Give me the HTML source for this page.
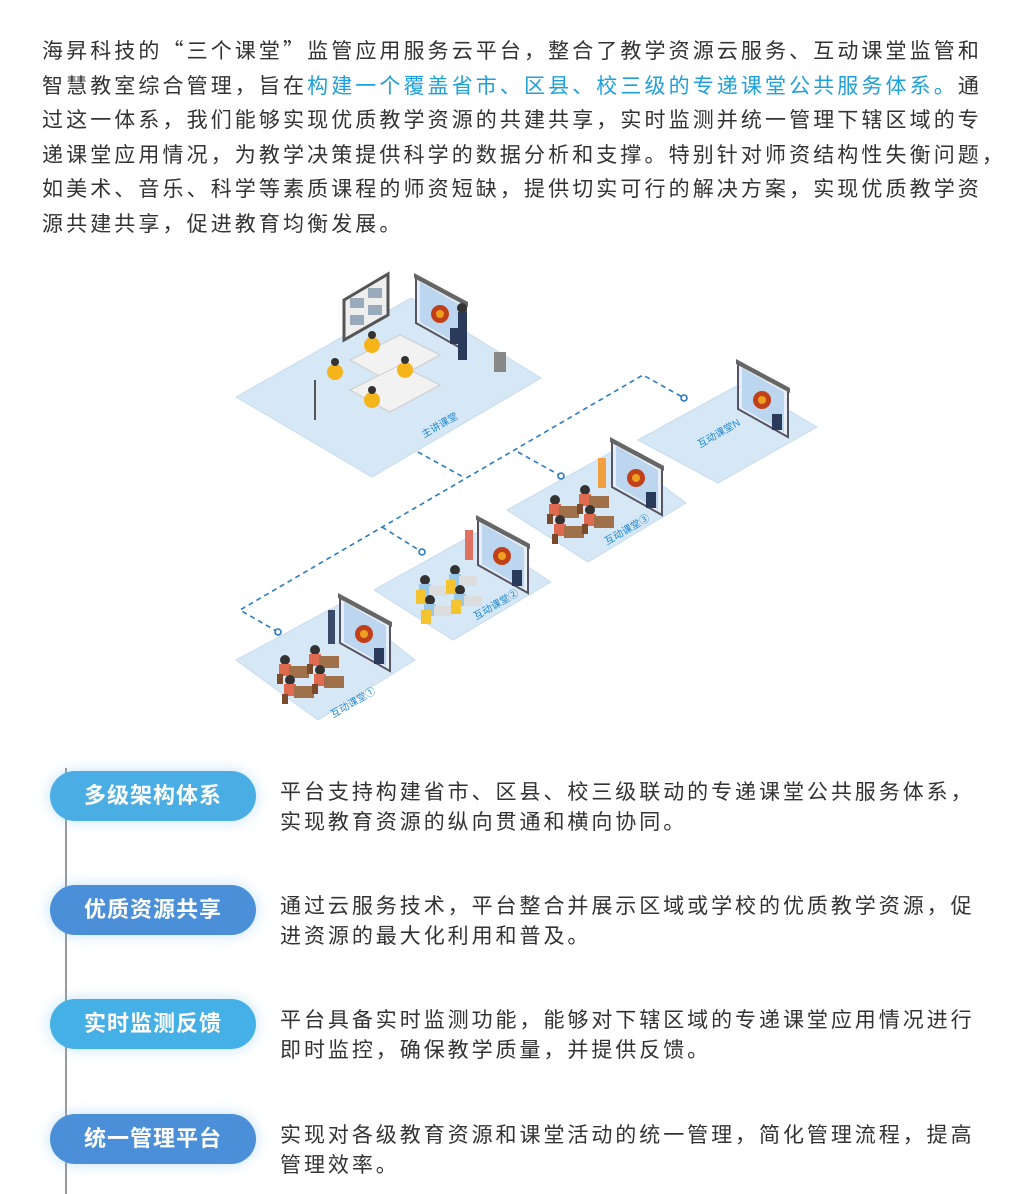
<!DOCTYPE html>
<html><head><meta charset="utf-8">
<style>
body{margin:0;width:1024px;height:1194px;background:#fff;position:relative;overflow:hidden;font-family:"Liberation Sans","Noto Sans CJK SC",sans-serif;color:#333;}
.intro{position:absolute;left:42px;top:33px;font-size:21px;line-height:34.6px;letter-spacing:3.1px;white-space:nowrap;}
.q{font-family:"Noto Sans CJK SC",sans-serif;}
.hl{color:#1ea0dc;}
.vline{position:absolute;left:65px;top:768px;width:2px;height:426px;background:#999;}
.pill{position:absolute;left:50px;width:206px;height:50px;border-radius:25px;color:#fff;font-size:22px;font-weight:bold;text-align:center;line-height:50px;letter-spacing:1px;box-shadow:0 0 14px rgba(120,190,240,.45);}
.desc{position:absolute;left:280px;font-size:21px;line-height:30px;letter-spacing:2.95px;white-space:nowrap;color:#333;}
</style></head><body>
<div class="intro">海昇科技的<span class="q">“</span>三个课堂<span class="q">”</span>监管应用服务云平台，整合了教学资源云服务、互动课堂监管和<br>智慧教室综合管理，旨在<span class="hl">构建一个覆盖省市、区县、校三级的专递课堂公共服务体系。</span>通<br>过这一体系，我们能够实现优质教学资源的共建共享，实时监测并统一管理下辖区域的专<br>递课堂应用情况，为教学决策提供科学的数据分析和支撑。特别针对师资结构性失衡问题，<br>如美术、音乐、科学等素质课程的师资短缺，提供切实可行的解决方案，实现优质教学资<br>源共建共享，促进教育均衡发展。</div>

<svg style="position:absolute;left:0;top:0" width="1024" height="760">
<defs>
<g id="scr"><polygon points="0,0 50,28 50,75 0,47" fill="#e8eef5" stroke="#556" stroke-width="2"/><polygon points="4,6 46,30 46,70 4,46" fill="#bcd6ef"/><circle cx="24" cy="38" r="9" fill="#c0401a"/><circle cx="24" cy="38" r="4" fill="#f0a020"/><polygon points="-2,-3 52,26 52,31 -2,2" fill="#666"/><rect x="34" y="52" width="10" height="16" fill="#2a3a5a"/></g>
<g id="stu"><circle cx="0" cy="0" r="5" fill="#333"/><rect x="-6" y="4" width="12" height="12" fill="#e06a50"/><rect x="4" y="6" width="20" height="12" fill="#a0704a"/><rect x="-8" y="14" width="6" height="10" fill="#7a4a2a"/></g>
<g id="stu2"><circle cx="0" cy="0" r="5" fill="#333"/><rect x="-6" y="4" width="12" height="12" fill="#9cc8e8"/><rect x="-9" y="10" width="10" height="14" fill="#f4c430"/><rect x="4" y="6" width="18" height="10" fill="#ddd"/></g>
</defs>
<g fill="#d6e7f6" stroke="#c6dcef" stroke-width="1">
<polygon points="236,397 411,298 541,378 372,477"/>
<polygon points="638,440 742,383 817,427 718,483"/>
<polygon points="507,510 615,450 686,503 588,562"/>
<polygon points="374,590 476,533 551,582 453,640"/>
<polygon points="236,660 342,603 415,660 318,720"/>
</g>
<g stroke="#2a7bc0" stroke-width="1.6" stroke-dasharray="5,4" fill="none">
<polyline points="278,632 240,610 643,375 684,398"/>
<line x1="418" y1="452" x2="465" y2="478"/>
<line x1="382" y1="527" x2="422" y2="552"/>
<line x1="518" y1="452" x2="561" y2="476"/>
</g>
<g fill="#fff" stroke="#2a7bc0" stroke-width="1.6">
<circle cx="278" cy="632" r="3"/><circle cx="684" cy="398" r="3"/><circle cx="422" cy="552" r="3"/><circle cx="561" cy="476" r="3"/>
</g>
<polygon points="344,300 388,274 388,315 344,340" fill="#eee" stroke="#555" stroke-width="3"/>
<g fill="#9ab"><rect x="350" y="298" width="14" height="10"/><rect x="368" y="288" width="14" height="10"/><rect x="350" y="315" width="14" height="10"/><rect x="368" y="305" width="14" height="10"/></g>
<use href="#scr" x="416" y="276"/>
<use href="#scr" x="738" y="362"/>
<use href="#scr" x="612" y="440"/>
<use href="#scr" x="478" y="518"/>
<use href="#scr" x="340" y="596"/>
<g fill="#f2f2f2" stroke="#ccc"><polygon points="350,360 400,335 440,355 390,382"/><polygon points="350,390 400,365 440,385 390,412"/></g>
<g fill="#f4b41a"><circle cx="335" cy="372" r="8"/><circle cx="372" cy="345" r="8"/><circle cx="405" cy="370" r="8"/><circle cx="372" cy="400" r="8"/></g>
<g fill="#333"><circle cx="335" cy="362" r="4"/><circle cx="372" cy="335" r="4"/><circle cx="405" cy="360" r="4"/><circle cx="372" cy="390" r="4"/></g>
<rect x="458" y="312" width="9" height="48" fill="#2a3a5a"/><circle cx="462" cy="308" r="5" fill="#333"/>
<rect x="494" y="352" width="12" height="20" fill="#888"/>
<line x1="315" y1="380" x2="315" y2="420" stroke="#555" stroke-width="2"/>
<use href="#stu" x="555" y="500"/><use href="#stu" x="585" y="490"/><use href="#stu" x="560" y="520"/><use href="#stu" x="590" y="510"/>
<use href="#stu" x="285" y="660"/><use href="#stu" x="315" y="650"/><use href="#stu" x="290" y="680"/><use href="#stu" x="320" y="670"/>
<use href="#stu2" x="425" y="580"/><use href="#stu2" x="455" y="570"/><use href="#stu2" x="430" y="600"/><use href="#stu2" x="460" y="590"/>
<rect x="598" y="458" width="8" height="30" fill="#f0a040"/><rect x="465" y="530" width="8" height="30" fill="#e07060"/><rect x="328" y="610" width="7" height="34" fill="#3a4a6a"/>
<g fill="#1e88d0" font-size="10" font-family="Liberation Sans,Noto Sans CJK SC,sans-serif">
<text transform="translate(424,438) rotate(-30)">主讲课堂</text>
<text transform="translate(700,448) rotate(-30)">互动课堂N</text>
<text transform="translate(607,545) rotate(-30)">互动课堂③</text>
<text transform="translate(476,620) rotate(-30)">互动课堂②</text>
<text transform="translate(333,718) rotate(-30)">互动课堂①</text>
</g>
</svg>

<div class="vline"></div>
<div class="pill" style="top:771px;background:#4aaee4;">多级架构体系</div>
<div class="pill" style="top:885px;background:#4a8fd8;">优质资源共享</div>
<div class="pill" style="top:999px;background:#45b0e6;">实时监测反馈</div>
<div class="pill" style="top:1114px;background:#4a8fd8;">统一管理平台</div>
<div class="desc" style="top:778px;">平台支持构建省市、区县、校三级联动的专递课堂公共服务体系，<br>实现教育资源的纵向贯通和横向协同。</div>
<div class="desc" style="top:892px;">通过云服务技术，平台整合并展示区域或学校的优质教学资源，促<br>进资源的最大化利用和普及。</div>
<div class="desc" style="top:1006px;">平台具备实时监测功能，能够对下辖区域的专递课堂应用情况进行<br>即时监控，确保教学质量，并提供反馈。</div>
<div class="desc" style="top:1121px;">实现对各级教育资源和课堂活动的统一管理，简化管理流程，提高<br>管理效率。</div>
</body></html>
